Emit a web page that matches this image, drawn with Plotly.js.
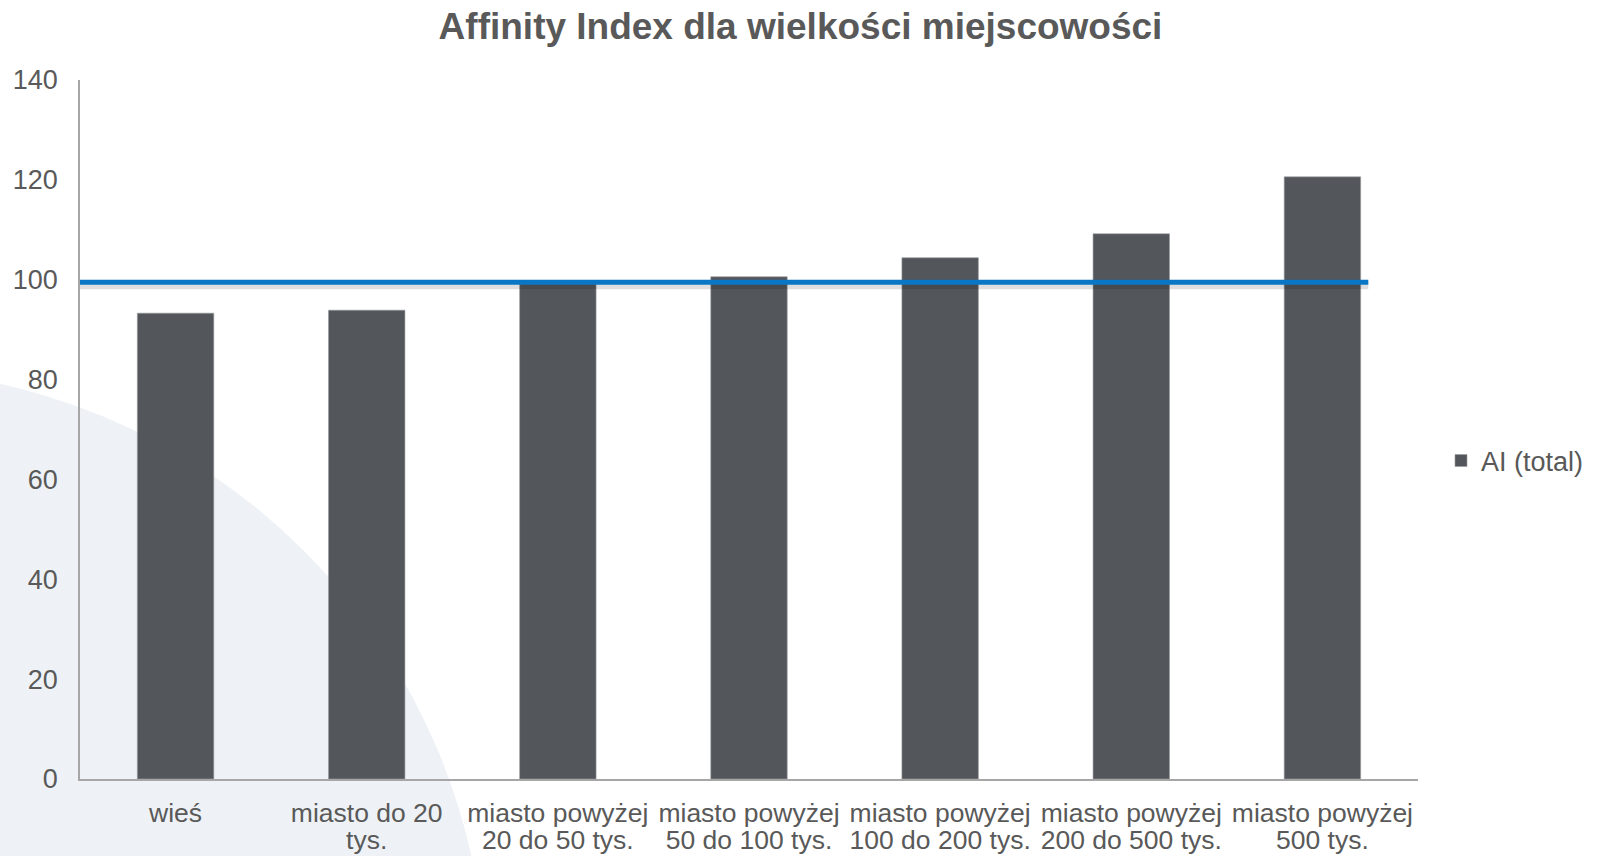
<!DOCTYPE html>
<html>
<head>
<meta charset="utf-8">
<script src="https://cdn.plot.ly/plotly-3.0.1.min.js"></script>
<style>
html,body{margin:0;padding:0;background:#fff;}
#chart{width:1601px;height:856px;}
</style>
</head>
<body>
<div id="chart"></div>
<script>
// ---- data ----
var categories = [
  "wieś",
  "miasto do 20 tys.",
  "miasto powyżej 20 do 50 tys.",
  "miasto powyżej 50 do 100 tys.",
  "miasto powyżej 100 do 200 tys.",
  "miasto powyżej 200 do 500 tys.",
  "miasto powyżej 500 tys."
];
var labelLine1 = ["wieś", "miasto do 20", "miasto powyżej", "miasto powyżej", "miasto powyżej", "miasto powyżej", "miasto powyżej"];
var labelLine2 = ["", "tys.", "20 do 50 tys.", "50 do 100 tys.", "100 do 200 tys.", "200 do 500 tys.", "500 tys."];
var aiTotal = [93.3, 93.9, 99.2, 100.6, 104.4, 109.2, 120.6];
var seriesName = "AI (total)";
var referenceLevel = 99.5;
var yTicks = [0, 20, 40, 60, 80, 100, 120, 140];
var chartTitle = "Affinity Index dla wielkości miejscowości";

// ---- layout helpers (pixel geometry of the page) ----
var W = 1601, H = 856;
var mL = 80, mR = 183, mT = 80, mB = 77;
var pw = W - mL - mR, ph = H - mT - mB;
function px2paperX(px){ return (px - mL) / pw; }
function px2paperY(py){ return (H - mB - py) / ph; }

// decorative background circle (pixels)
var cx = -135, cy = 990, r = 621;

var barTrace = {
  type: 'bar',
  x: categories,
  y: aiTotal,
  name: seriesName,
  marker: {color: '#53565a', line: {color: '#9a9c9f', width: 0.6}},
  showlegend: true,
  hoverinfo: 'x+y'
};
var labelTrace = {
  type: 'scatter', mode: 'none',
  x: categories, y: aiTotal,
  xaxis: 'x2', yaxis: 'y',
  showlegend: false, hoverinfo: 'skip'
};

var FONT = 'Liberation Sans, Arial, sans-serif';
var layout = {
  width: W, height: H,
  margin: {l: mL, r: mR, t: mT, b: mB, pad: 0},
  paper_bgcolor: 'rgba(0,0,0,0)',
  plot_bgcolor: 'rgba(0,0,0,0)',
  font: {family: FONT, color: '#595959', size: 27},
  title: {
    text: '<b>' + chartTitle + '</b>',
    font: {family: FONT, size: 37, color: '#595959'},
    xref: 'container', x: 0.5, xanchor: 'center',
    yref: 'container', y: 1 - 26 / H, yanchor: 'middle'
  },
  bargap: 0.6,
  xaxis: {
    type: 'category',
    range: [-0.5, 6.5],
    tickmode: 'array', tickvals: categories, ticktext: labelLine1,
    showgrid: false, zeroline: false,
    showline: true, linecolor: '#a6a6a6', linewidth: 1.5,
    ticks: '', ticklabelstandoff: 9,
    tickfont: {size: 26.5, color: '#595959'},
    fixedrange: true
  },
  xaxis2: {
    type: 'category',
    overlaying: 'x', anchor: 'y', side: 'bottom',
    range: [-0.5, 6.5],
    tickmode: 'array', tickvals: categories, ticktext: labelLine2,
    showgrid: false, zeroline: false, showline: false,
    ticks: '', ticklabelstandoff: 42,
    tickfont: {size: 26.5, color: '#595959'},
    fixedrange: true
  },
  yaxis: {
    range: [0, 140],
    tickvals: yTicks,
    ticktext: yTicks.map(String),
    showgrid: false, zeroline: false,
    showline: true, linecolor: '#a6a6a6', linewidth: 1.5,
    ticks: '', ticklabelstandoff: 15,
    tickfont: {size: 27, color: '#595959'},
    fixedrange: true
  },
  legend: {
    x: px2paperX(1441), xanchor: 'left',
    y: px2paperY(461), yanchor: 'middle',
    font: {size: 27, color: '#595959'},
    bgcolor: 'rgba(0,0,0,0)'
  },
  shapes: [
    {
      type: 'circle', layer: 'below',
      xref: 'paper', yref: 'paper',
      x0: px2paperX(cx - r), x1: px2paperX(cx + r),
      y0: px2paperY(cy + r), y1: px2paperY(cy - r),
      fillcolor: '#eef2f6', line: {width: 0}
    },
    {
      type: 'line', layer: 'above',
      xref: 'x', yref: 'y',
      x0: -0.52, x1: 6.24,
      y0: referenceLevel - 0.7, y1: referenceLevel - 0.7,
      line: {color: 'rgba(0,0,0,0.13)', width: 7}
    },
    {
      type: 'line', layer: 'above',
      xref: 'x', yref: 'y',
      x0: -0.52, x1: 6.24,
      y0: referenceLevel, y1: referenceLevel,
      line: {color: '#0a76c6', width: 5}
    }
  ]
};

Plotly.newPlot('chart', [barTrace, labelTrace], layout, {displayModeBar: false, responsive: false});
</script>
</body>
</html>
